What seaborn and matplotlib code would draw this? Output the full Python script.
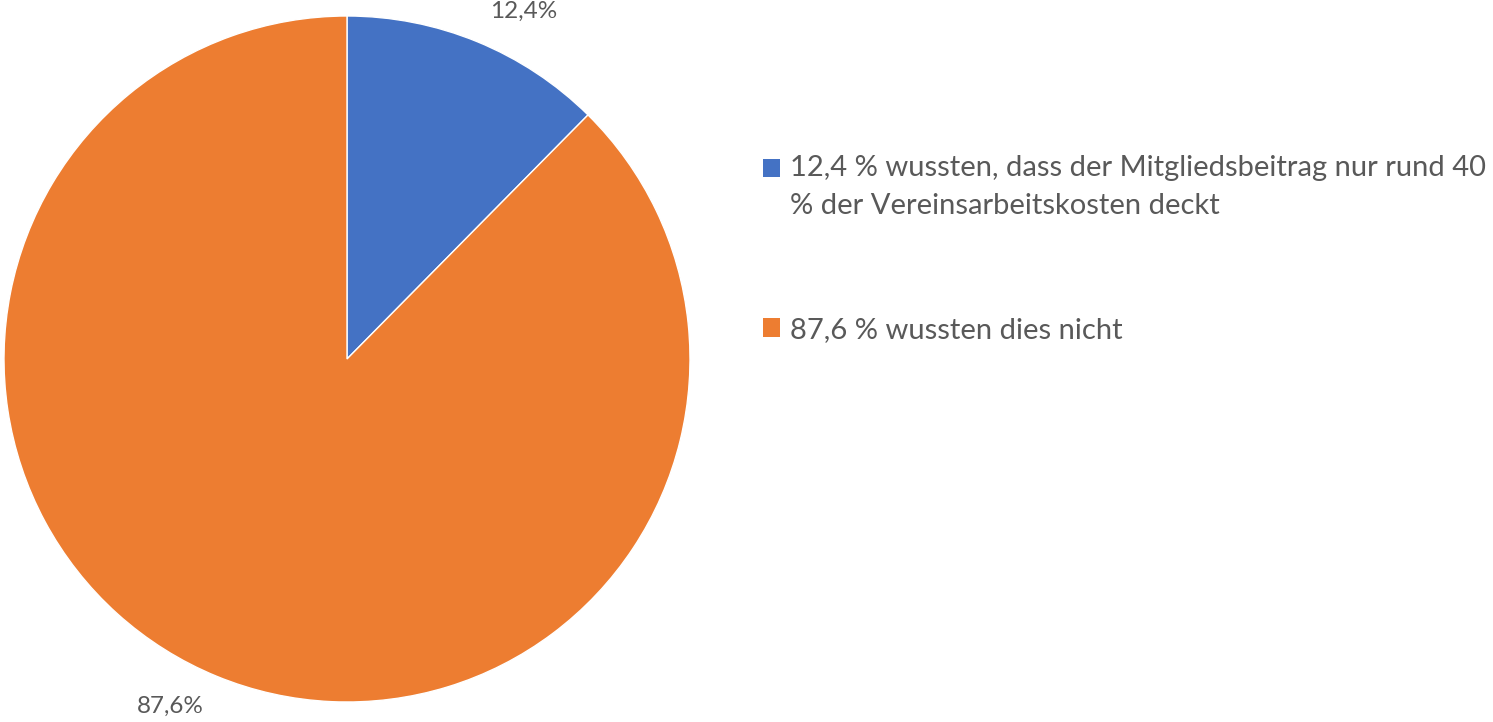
import matplotlib
matplotlib.use("Agg")
import matplotlib.pyplot as plt
from matplotlib.patches import Rectangle
from matplotlib.legend_handler import HandlerPatch
import seaborn as sns

# survey answers (share of members)
labels = [
    "12,4 % wussten, dass der Mitgliedsbeitrag nur rund 40\n% der Vereinsarbeitskosten deckt",
    "87,6 % wussten dies nicht",
]
shares = [12.4, 87.6]
colors = ["#4472C4", "#ED7D31"]

sns.set_theme(style="white")
plt.rcParams["font.family"] = ["Lato", "DejaVu Sans"]
grey = "#595959"
fs = 21

fig = plt.figure(figsize=(14.93, 7.22), dpi=100)
ax = fig.add_axes([4 / 1493, 20 / 722, 686 / 1493, 686 / 722])

wedges, _, pct = ax.pie(
    shares,
    colors=colors,
    startangle=90,
    counterclock=False,
    autopct=lambda p: f"{p:.1f}%".replace(".", ","),
    pctdistance=1.14,
    wedgeprops=dict(linewidth=1, edgecolor="white"),
    textprops=dict(color=grey, fontsize=17.5),
)
ax.set_xlim(-1, 1)
ax.set_ylim(-1, 1)
ax.set_aspect("equal")

# Excel nudges the outside labels a bit sideways
for t in pct:
    x, y = t.get_position()
    t.set_position((x * 1.19, y * 0.96))
    t.set_clip_on(False)


# square next to the first line of a two-line label (like Excel does)
def top_square(legend, orig_handle, xdescent, ydescent, width, height, fontsize):
    return Rectangle((-xdescent, -ydescent + 0.66 * fontsize), width, height)


leg = fig.legend(
    wedges, labels,
    loc="upper left",
    bbox_to_anchor=(751 / 1493, 1 - 143 / 722),
    frameon=False,
    fontsize=fs,
    labelcolor=grey,
    handlelength=0.6,
    handleheight=0.6,
    handletextpad=0.35,
    labelspacing=3.35,
    borderaxespad=0,
    handler_map={wedges[0]: HandlerPatch(patch_func=top_square)},
)
for t in leg.get_texts():
    t.set_linespacing(1.6)
for h in leg.legend_handles:
    h.set_linewidth(0)

fig.savefig("out.png", dpi=100)
